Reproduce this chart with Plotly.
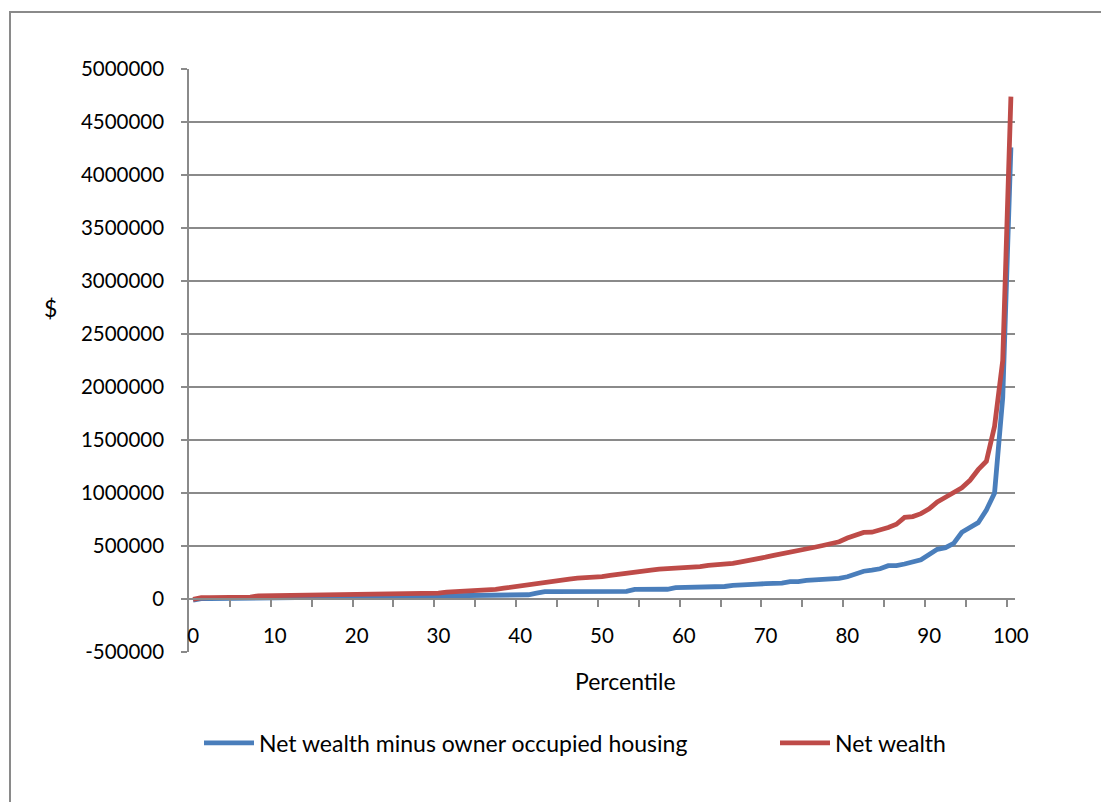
import plotly.graph_objects as go

percentiles = list(range(0, 101))

net_wealth = [
    -3000, 12000, 13000, 14000, 15000, 15000, 16000, 18000, 30000, 31000,
    31000, 32000, 32000, 33000, 33000, 34000, 34000, 35000, 35000, 36000,
    36000, 38000, 46000, 47000, 48000, 49000, 50000, 51000, 52000, 53000,
    55000, 65000, 68000, 70000, 74000, 84000, 86000, 90000, 102000, 114000,
    122000, 133000, 145000, 158000, 170000, 180000, 188000, 196000, 198000, 200000,
    212000, 224000, 236000, 245000, 254000, 264000, 273000, 281000, 286000, 287000,
    287000, 290000, 305000, 318000, 323000, 325000, 336000, 350000, 362000, 378000,
    395000, 412000, 425000, 440000, 455000, 470000, 488000, 505000, 520000, 540000,
    575000, 598000, 628000, 630000, 650000, 675000, 705000, 770000, 778000, 805000,
    850000, 915000, 960000, 1010000, 1050000, 1120000, 1220000, 1300000, 1630000, 2250000,
    4740000,
]

net_wealth_minus_housing = [
    -10000, 3000, 4000, 5000, 5000, 6000, 6000, 7000, 15000, 16000,
    16000, 17000, 17000, 18000, 18000, 19000, 19000, 20000, 20000, 21000,
    21000, 22000, 23000, 23000, 24000, 24000, 25000, 25000, 26000, 27000,
    30000, 36000, 37000, 37000, 38000, 38000, 38000, 38000, 38000, 39000,
    39000, 40000, 55000, 69000, 69000, 69000, 69000, 69000, 69000, 69000,
    69000, 69000, 70000, 72000, 90000, 91000, 91000, 91000, 92000, 107000,
    107000, 107000, 107000, 107000, 108000, 118000, 129000, 129000, 130000, 140000,
    145000, 145000, 150000, 163000, 163000, 175000, 179000, 185000, 195000, 195000,
    210000, 233000, 262000, 272000, 285000, 314000, 315000, 330000, 352000, 370000,
    420000, 469000, 484000, 525000, 630000, 670000, 720000, 840000, 1000000, 1900000,
    4260000,
]

x_tick_vals = [0, 10, 20, 30, 40, 50, 60, 70, 80, 90, 100]
x_tick_text = [str(v) for v in x_tick_vals]
x_minor_ticks = [4.5 + 5 * i for i in range(20)]
y_tick_vals = [-500000, 0, 500000, 1000000, 1500000, 2000000, 2500000,
               3000000, 3500000, 4000000, 4500000, 5000000]
y_tick_text = ["-500000", "0", "500000", "1000000", "1500000", "2000000",
               "2500000", "3000000", "3500000", "4000000", "4500000", "5000000"]

BLUE = "#4A7EBB"
RED = "#BE4B48"
GRID = "#8A8A8A"
FONT = "Lato"
NUM_SIZE = 20.5
TXT_SIZE = 23

W, H = 1101, 802
L, R, T, B = 189, 86, 69, 150
PW, PH = W - L - R, H - T - B


def px(x):
    return (x - L) / PW


def py(y):
    return (H - B - y) / PH


fig = go.Figure()
fig.add_trace(go.Scatter(x=percentiles, y=net_wealth_minus_housing, mode="lines",
                         name="Net wealth minus owner occupied housing",
                         line=dict(color=BLUE, width=4.8), legend="legend"))
fig.add_trace(go.Scatter(x=percentiles, y=net_wealth, mode="lines",
                         name="Net wealth",
                         line=dict(color=RED, width=4.8), legend="legend2"))

legend_common = dict(orientation="h", xanchor="left", yanchor="middle",
                     itemwidth=50,
                     font=dict(family=FONT, size=TXT_SIZE, color="black"),
                     bgcolor="rgba(0,0,0,0)")

fig.update_layout(
    width=W, height=H,
    margin=dict(l=L, r=R, t=T, b=B, autoexpand=False),
    paper_bgcolor="white", plot_bgcolor="white",
    font=dict(family=FONT, size=TXT_SIZE, color="black"),
    showlegend=True,
    legend=dict(x=px(199), y=py(743), **legend_common),
    legend2=dict(x=px(775), y=py(743), **legend_common),
    xaxis=dict(range=[-0.5, 100.5], anchor="free", position=1 / 11,
               tickmode="array", tickvals=x_tick_vals, ticktext=x_tick_text,
               ticks="outside", ticklen=7, tickcolor="rgba(0,0,0,0)",
               showline=True, linecolor=GRID, linewidth=1.5,
               showgrid=False, zeroline=False, ticklabelstandoff=12,
               tickfont=dict(family=FONT, size=NUM_SIZE, color="black"),
               minor=dict(tickmode="array", tickvals=x_minor_ticks, ticks="outside",
                          ticklen=7, tickcolor=GRID, tickwidth=1.5, showgrid=False)),
    yaxis=dict(range=[-500000, 5000000], tickmode="array",
               tickvals=y_tick_vals, ticktext=y_tick_text,
               ticks="outside", ticklen=6, tickcolor=GRID, tickwidth=1.5,
               showline=True, linecolor=GRID, linewidth=1.5,
               showgrid=True, gridcolor=GRID, gridwidth=1.5, zeroline=False,
               ticklabelstandoff=13,
               tickfont=dict(family=FONT, size=NUM_SIZE, color="black")),
    annotations=[
        dict(text="$", xref="paper", yref="paper", x=px(50), y=py(308),
             showarrow=False, font=dict(family=FONT, size=TXT_SIZE, color="black"),
             xanchor="center", yanchor="middle"),
        dict(text="Percentile", xref="paper", yref="paper", x=px(625), y=py(681),
             showarrow=False, font=dict(family=FONT, size=TXT_SIZE, color="black"),
             xanchor="center", yanchor="middle"),
    ],
    shapes=[
        dict(type="rect", xref="paper", yref="paper",
             x0=px(10), x1=px(1115), y0=py(815), y1=py(12),
             line=dict(color=GRID, width=2), fillcolor="rgba(0,0,0,0)", layer="below"),
    ],
)

fig.write_html("out.html", config={"displayModeBar": False},
               post_script="document.body.style.margin='0px';")
